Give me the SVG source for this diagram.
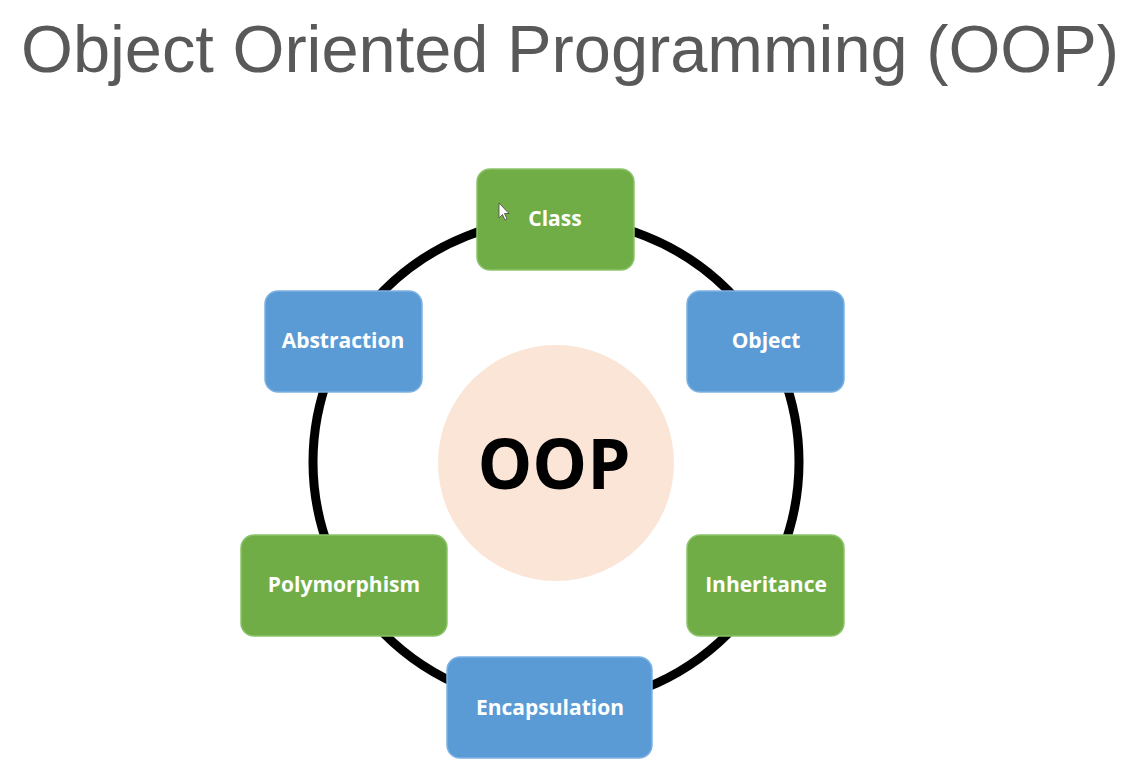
<svg xmlns="http://www.w3.org/2000/svg" width="1133" height="769" viewBox="0 0 1133 769">
  <style>
    .title { font-family: "Liberation Sans", Arial, sans-serif; font-size: 66px; fill: #595959; }
    .box-green { fill: #70AD47; stroke: #8CC46A; stroke-width: 1.5; }
    .box-blue { fill: #5B9BD5; stroke: #7DB2E2; stroke-width: 1.5; }
    .label { font-family: "Open Sans", "Noto Sans", sans-serif; font-weight: bold; font-size: 21px; fill: #FFFFFF; text-anchor: middle; dominant-baseline: central; }
    .hub-text { font-family: "Open Sans", "Noto Sans", sans-serif; font-weight: bold; font-size: 69px; fill: #000000; text-anchor: middle; dominant-baseline: central; }
    .ring { fill: none; stroke: #000000; stroke-width: 9; }
  </style>

  <rect width="1133" height="769" fill="#FFFFFF"/>

  <text class="title" x="21" y="72" textLength="1098" lengthAdjust="spacingAndGlyphs">Object Oriented Programming (OOP)</text>

  <!-- connecting ring -->
  <g id="connectors">
    <circle class="ring" cx="556" cy="462" r="243"/>
  </g>

  <!-- hub -->
  <g id="hub">
    <circle cx="556" cy="463" r="118" fill="#FBE5D6"/>
    <text class="hub-text" x="554" y="462">OOP</text>
  </g>

  <g id="class">
    <rect class="box-green" x="477" y="169" width="157" height="101" rx="13"/>
    <text class="label" x="555" y="218">Class</text>
    <path d="M499,203 L499,218 L502.5,214.5 L505,220 L507,219 L504.5,213.5 L509,213.5 Z" fill="#FFFFFF" stroke="#444444" stroke-width="0.8"/>
  </g>

  <g id="object">
    <rect class="box-blue" x="687" y="291" width="157" height="101" rx="13"/>
    <text class="label" x="766" y="340">Object</text>
  </g>

  <g id="abstraction">
    <rect class="box-blue" x="265" y="291" width="157" height="101" rx="13"/>
    <text class="label" x="343" y="340">Abstraction</text>
  </g>

  <g id="polymorphism">
    <rect class="box-green" x="241" y="535" width="206" height="101" rx="13"/>
    <text class="label" x="344" y="584">Polymorphism</text>
  </g>

  <g id="inheritance">
    <rect class="box-green" x="687" y="535" width="157" height="101" rx="13"/>
    <text class="label" x="766" y="584">Inheritance</text>
  </g>

  <g id="encapsulation">
    <rect class="box-blue" x="447" y="657" width="205" height="101" rx="13"/>
    <text class="label" x="550" y="707">Encapsulation</text>
  </g>
</svg>
